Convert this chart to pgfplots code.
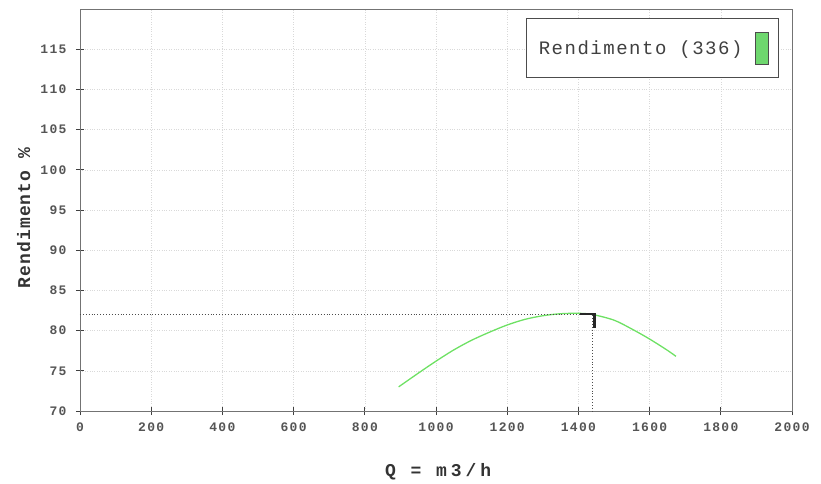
\documentclass[border=0pt]{standalone}
\usepackage{fontspec}
\setmainfont{Liberation Sans}
\newfontfamily\legfont[LetterSpace=8]{Liberation Mono}
\newfontfamily\tickfont[LetterSpace=10]{Liberation Mono}
\newfontfamily\labfont[LetterSpace=22]{Liberation Mono}
\newfontfamily\ylabfont[LetterSpace=6]{Liberation Mono}
\usepackage{pgfplots}
\pgfplotsset{compat=1.18}
\definecolor{curvegreen}{RGB}{110,225,100}
\definecolor{legendgreen}{RGB}{110,215,110}
\definecolor{ticktext}{RGB}{85,85,85}
\begin{document}
\begin{tikzpicture}
\begin{axis}[
  scale only axis,
  width=712pt, height=402pt,
  xmin=0, xmax=2000, ymin=70, ymax=120,
  xtick={0,200,...,2000},
  ytick={70,75,...,115},
  tick pos=left,
  tick align=center,
  major tick length=8pt,
  tick style={black!75, line width=0.9pt},
  axis line style={black!55, line width=0.8pt},
  grid=major,
  grid style={black!15, dotted, line width=0.6pt},
  /pgf/number format/assume math mode=true,
  /pgf/number format/1000 sep={},
  ticklabel style={font=\tickfont\bfseries\fontsize{13}{15}\selectfont, text=ticktext},
  xticklabel style={yshift=-4pt},
  yticklabel style={xshift=-6pt},
  xlabel={Q = m3/h},
  ylabel={Rendimento \%},
  xlabel style={font=\labfont\bfseries\fontsize{18}{20}\selectfont, text=black!80, at={(axis description cs:0.503,-0.152)}, anchor=center},
  ylabel style={font=\ylabfont\bfseries\fontsize{18}{20}\selectfont, text=black!80, at={(axis description cs:-0.079,0.48)}, anchor=center},
  legend style={at={(rel axis cs:0.982,0.977)}, anchor=north east, draw=black!70, line width=0.8pt,
    font=\legfont\fontsize{19}{22}\selectfont, text=black!75,
    inner xsep=10pt, inner ysep=13pt, legend cell align=left},
  legend image code/.code={\path[draw=none, fill=none] (0pt,-16pt) rectangle (1pt,16pt); \draw[fill=legendgreen, draw=black!70, line width=0.6pt] (11pt,-16pt) rectangle (24pt,16pt);},
  legend plot pos=right,
]
\addplot[curvegreen, line width=1.3pt, smooth] coordinates {
(895,73.0) (950,74.7) (1000,76.2) (1050,77.6) (1100,78.8) (1150,79.8)
(1200,80.7) (1250,81.4) (1300,81.85) (1350,82.1) (1400,82.15) (1440,82.0)
(1500,81.3) (1550,80.2) (1600,78.95) (1650,77.55) (1674,76.8)
};
\addlegendentry{Rendimento (336)}
\addplot[black!70, dotted, line width=0.9pt, forget plot] coordinates {(0,82) (1440,82) (1440,70)};
\addplot[black!85, line width=2.2pt, forget plot] coordinates {(1405,82.1) (1445,82.1) (1445,80.3)};
\end{axis}
\pgfresetboundingbox
\path[use as bounding box] (-80pt,-72pt) rectangle (741pt,411pt);
\end{tikzpicture}
\end{document}
